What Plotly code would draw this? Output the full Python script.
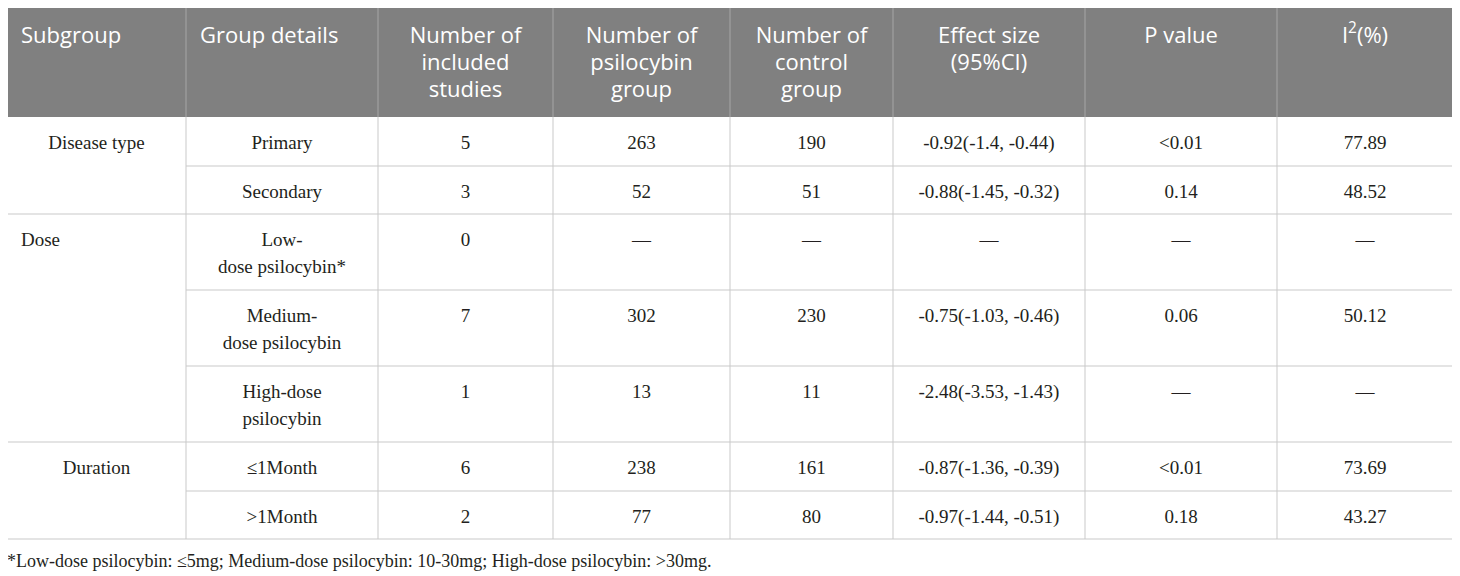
import plotly.graph_objects as go

# table content
header = [
    ["Subgroup"],
    ["Group details"],
    ["Number of", "included", "studies"],
    ["Number of", "psilocybin", "group"],
    ["Number of", "control", "group"],
    ["Effect size", "(95%CI)"],
    ["P value"],
    ["I<sup>2</sup>(%)"],
]
subgroups = ["Disease type", "Dose", "Duration"]
subgroup_rows = [2, 3, 2]
subgroup_align = ["center", "left", "center"]
details = [
    ["Primary"], ["Secondary"],
    ["Low-", "dose psilocybin*"], ["Medium-", "dose psilocybin"], ["High-dose", "psilocybin"],
    ["≤1Month"], [">1Month"],
]
n_studies = ["5", "3", "0", "7", "1", "6", "2"]
n_psilocybin = ["263", "52", "—", "302", "13", "238", "77"]
n_control = ["190", "51", "—", "230", "11", "161", "80"]
effect_size = ["-0.92(-1.4, -0.44)", "-0.88(-1.45, -0.32)", "—", "-0.75(-1.03, -0.46)",
               "-2.48(-3.53, -1.43)", "-0.87(-1.36, -0.39)", "-0.97(-1.44, -0.51)"]
p_value = ["<0.01", "0.14", "—", "0.06", "—", "<0.01", "0.18"]
i_squared = ["77.89", "48.52", "—", "50.12", "—", "73.69", "43.27"]
footnote = "*Low-dose psilocybin: ≤5mg; Medium-dose psilocybin: 10-30mg; High-dose psilocybin: >30mg."

# geometry, in page pixels (the page body adds an 8px margin, so axes start at 8)
col_x = [7, 186, 378, 553, 730, 893, 1085, 1277, 1453]
top, header_h = 7, 110
row_h = [49, 48, 76, 76, 76, 49, 48]
line_gap = 27
grid = "#c9c9c9"
ink = "#231f20"
serif = "Liberation Serif"
sans = "Open Sans"

row_top = [top + header_h]
for h in row_h:
    row_top.append(row_top[-1] + h)
bottom = row_top[-1]

fig = go.Figure()
shapes = []

# header band
shapes.append(dict(type="rect", x0=col_x[0], x1=col_x[-1], y0=top, y1=top + header_h,
                   fillcolor="#808080", line=dict(width=0), layer="below"))
for x in col_x[1:-1]:
    shapes.append(dict(type="line", x0=x, x1=x, y0=top, y1=top + header_h,
                       line=dict(color="#a6a6a6", width=1)))

# horizontal rules
group_starts = [0]
for n in subgroup_rows:
    group_starts.append(group_starts[-1] + n)
for i, y in enumerate(row_top[:-1]):
    if i == 0:
        continue
    x0 = col_x[0] if i in group_starts else col_x[1]
    shapes.append(dict(type="line", x0=x0, x1=col_x[-1], y0=y, y1=y, line=dict(color=grid, width=1)))
shapes.append(dict(type="line", x0=col_x[0], x1=col_x[-1], y0=bottom, y1=bottom, line=dict(color=grid, width=1)))

# vertical rules in body
for x in col_x:
    shapes.append(dict(type="line", x0=x, x1=x, y0=top + header_h, y1=bottom, line=dict(color=grid, width=1)))

# header text
hx, hy, ht, hp = [], [], [], []
for c, lines in enumerate(header):
    for k, t in enumerate(lines):
        if c < 2:
            hx.append(col_x[c] + 14)
            hp.append("middle right")
        else:
            hx.append((col_x[c] + col_x[c + 1]) / 2)
            hp.append("middle center")
        hy.append(top + 30 + k * line_gap)
        ht.append(t)
fig.add_trace(go.Scatter(x=hx, y=hy, text=ht, mode="text", textposition=hp,
                         textfont=dict(family=sans, size=22, color="white"), hoverinfo="skip"))

# body text
bx, by, bt, bp = [], [], [], []
for g, name in enumerate(subgroups):
    r = group_starts[g]
    if subgroup_align[g] == "left":
        bx.append(col_x[0] + 14)
        bp.append("middle right")
    else:
        bx.append((col_x[0] + col_x[1]) / 2)
        bp.append("middle center")
    by.append(row_top[r] + 27)
    bt.append(name)

columns = [details, n_studies, n_psilocybin, n_control, effect_size, p_value, i_squared]
for c, values in enumerate(columns, start=1):
    xc = (col_x[c] + col_x[c + 1]) / 2
    for r, v in enumerate(values):
        lines = v if isinstance(v, list) else [v]
        for k, t in enumerate(lines):
            bx.append(xc)
            by.append(row_top[r] + 27 + k * line_gap)
            bt.append(t)
            bp.append("middle center")
fig.add_trace(go.Scatter(x=bx, y=by, text=bt, mode="text", textposition=bp,
                         textfont=dict(family=serif, size=19, color=ink), hoverinfo="skip"))

fig.add_trace(go.Scatter(x=[col_x[0]], y=[bottom + 23], text=[footnote], mode="text",
                         textposition="middle right",
                         textfont=dict(family=serif, size=18, color=ink), hoverinfo="skip"))

fig.update_layout(
    width=1460, height=576,
    margin=dict(l=0, r=0, t=0, b=0),
    paper_bgcolor="white", plot_bgcolor="white",
    showlegend=False, shapes=shapes,
    xaxis=dict(range=[8, 1468], visible=False, fixedrange=True),
    yaxis=dict(range=[584, 8], visible=False, fixedrange=True),
)

fig.write_html("out.html")
